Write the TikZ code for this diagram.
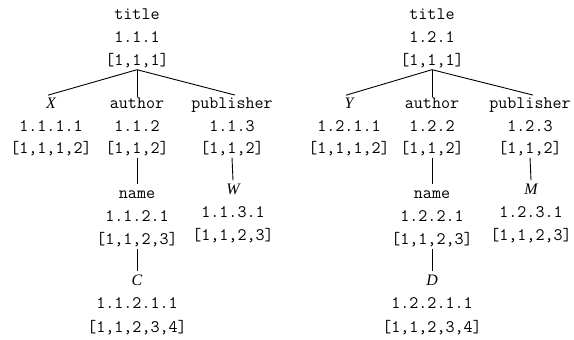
\documentclass[tikz,border=0pt]{standalone}
\usepackage{fontspec}
\newfontfamily\varfont{Liberation Serif}
\begin{document}
\begin{tikzpicture}[x=1bp,y=-1bp]
\tikzset{
  lbl/.style={font=\ttfamily\fontsize{17.6}{20}\selectfont, inner xsep=0pt, inner ysep=1.5bp, text height=12bp, text depth=3bp, anchor=base},
  var/.style={lbl, font=\varfont\itshape\fontsize{16}{18}\selectfont},
  link/.style={line width=0.9bp, draw=black},
  fan/.style={link, shorten >=-3bp}
}
\useasboundingbox (0,0) rectangle (574,339);
% ---------- left tree ----------
\node[lbl] (lt1) at (137,19) {title};
\node[lbl] (lt2) at (137,42) {1.1.1};
\node[lbl] (lt3) at (137,65) {[1,1,1]};
\node[var] (lx1) at (51,108) {X};
\node[lbl] (lx2) at (51,131) {1.1.1.1};
\node[lbl] (lx3) at (51,153) {[1,1,1,2]};
\node[lbl] (la1) at (137,108) {author};
\node[lbl] (la2) at (137,131) {1.1.2};
\node[lbl] (la3) at (137,153) {[1,1,2]};
\node[lbl] (lp1) at (232,108) {publisher};
\node[lbl] (lp2) at (232,131) {1.1.3};
\node[lbl] (lp3) at (232,153) {[1,1,2]};
\node[lbl] (ln1) at (137,198) {name};
\node[lbl] (ln2) at (137,221) {1.1.2.1};
\node[lbl] (ln3) at (137,244) {[1,1,2,3]};
\node[var] (lw1) at (233,194) {W};
\node[lbl] (lw2) at (233,217) {1.1.3.1};
\node[lbl] (lw3) at (233,240) {[1,1,2,3]};
\node[var] (lc1) at (137,285) {C};
\node[lbl] (lc2) at (137,308.5) {1.1.2.1.1};
\node[lbl] (lc3) at (137,332) {[1,1,2,3,4]};
\draw[fan] (lt3.south) -- (lx1.north);
\draw[fan] (lt3.south) -- (la1.north);
\draw[fan] (lt3.south) -- (lp1.north);
\draw[link] (la3.south) -- (ln1.north);
\draw[link] (lp3.south) -- (lw1.north);
\draw[link] (ln3.south) -- (lc1.north);
% ---------- right tree ----------
\node[lbl] (rt1) at (432,19) {title};
\node[lbl] (rt2) at (432,42) {1.2.1};
\node[lbl] (rt3) at (432,65) {[1,1,1]};
\node[var] (ry1) at (349,108) {Y};
\node[lbl] (ry2) at (349,131) {1.2.1.1};
\node[lbl] (ry3) at (349,153) {[1,1,1,2]};
\node[lbl] (ra1) at (432,108) {author};
\node[lbl] (ra2) at (432,131) {1.2.2};
\node[lbl] (ra3) at (432,153) {[1,1,2]};
\node[lbl] (rp1) at (530,108) {publisher};
\node[lbl] (rp2) at (530,131) {1.2.3};
\node[lbl] (rp3) at (530,153) {[1,1,2]};
\node[lbl] (rn1) at (432,198) {name};
\node[lbl] (rn2) at (432,221) {1.2.2.1};
\node[lbl] (rn3) at (432,244) {[1,1,2,3]};
\node[var] (rm1) at (531,194) {M};
\node[lbl] (rm2) at (531,217) {1.2.3.1};
\node[lbl] (rm3) at (531,240) {[1,1,2,3]};
\node[var] (rd1) at (432,285) {D};
\node[lbl] (rd2) at (432,308.5) {1.2.2.1.1};
\node[lbl] (rd3) at (432,332) {[1,1,2,3,4]};
\draw[fan] (rt3.south) -- (ry1.north);
\draw[fan] (rt3.south) -- (ra1.north);
\draw[fan] (rt3.south) -- (rp1.north);
\draw[link] (ra3.south) -- (rn1.north);
\draw[link] (rp3.south) -- (rm1.north);
\draw[link] (rn3.south) -- (rd1.north);
\end{tikzpicture}
\end{document}
